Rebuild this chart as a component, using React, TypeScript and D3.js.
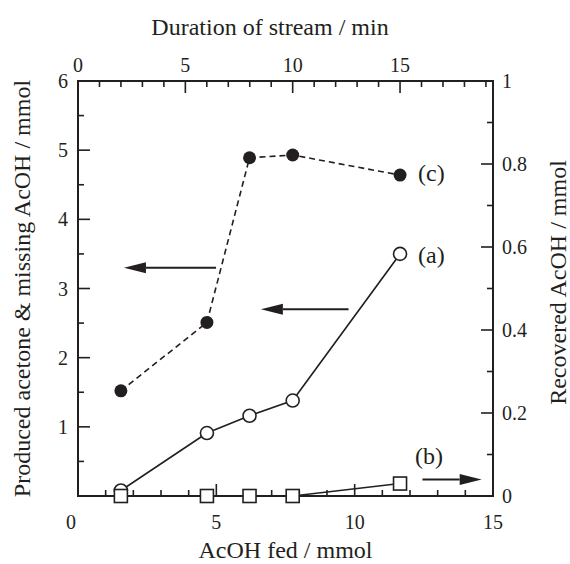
import * as d3 from "d3";

// AcOH fed (mmol) at each sampling point
const fedAcOH = [1.55, 4.66, 6.2, 7.76, 11.64];
// (a) produced acetone, left axis (mmol)
const acetoneA = [0.08, 0.91, 1.16, 1.38, 3.5];
// (b) recovered AcOH, right axis (mmol)
const recoveredB = [0, 0, 0, 0, 0.03];
// (c) missing AcOH, left axis (mmol)
const missingC = [1.52, 2.51, 4.89, 4.93, 4.64];

const xTicks = [0, 5, 10, 15];
const leftTicks = [1, 2, 3, 4, 5, 6];
const rightTicks = [0, 0.2, 0.4, 0.6, 0.8, 1];
const topTicks = [0, 5, 10, 15];
const feedRate = 0.776; // mmol AcOH per min of stream

// annotation arrows, in data units
const arrows = [
  { x1: 4.99, x2: 1.66, y: 3.3, side: "left" },
  { x1: 9.78, x2: 6.61, y: 2.7, side: "left" },
  { x1: 12.45, x2: 14.59, y: 0.04, side: "right" },
];
const seriesLabels = [
  { text: "(c)", x: 12.29, y: 4.64, side: "left" },
  { text: "(a)", x: 12.29, y: 3.45, side: "left" },
  { text: "(b)", x: 12.18, y: 0.091, side: "right" },
];

const W = 570;
const H = 564;
const L = 78;
const R = 493;
const T = 81;
const B = 496;
const ink = "#231f20";
const font = "Liberation Serif, Times New Roman, Times, serif";

export default function App() {
  const x = d3.scaleLinear().domain([0, 15]).range([L, R]);
  const xTop = d3.scaleLinear().domain([0, 15 / feedRate]).range([L, R]);
  const yL = d3.scaleLinear().domain([0, 6]).range([B, T]);
  const yR = d3.scaleLinear().domain([0, 1]).range([B, T]);

  const lineL = d3
    .line<number>()
    .x((_, i) => x(fedAcOH[i]))
    .y((d) => yL(d));
  const lineR = d3
    .line<number>()
    .x((_, i) => x(fedAcOH[i]))
    .y((d) => yR(d));

  const major = 12;
  const minor = 6;

  const xMinor = d3.range(1, 15).filter((v) => v % 5 !== 0);
  const topMinor = d3.range(1, Math.floor(15 / feedRate) + 1).filter((v) => v % 5 !== 0);
  const leftMinor = d3.range(0.5, 6, 1);
  const rightMinor = d3.range(0.1, 1, 0.2);

  return (
    <svg
      width={W}
      height={H}
      style={{ position: "absolute", left: 0, top: 0, background: "#fff", fontFamily: font }}
      fill={ink}
    >
      {/* frame */}
      <rect x={L} y={T} width={R - L} height={B - T} fill="none" stroke={ink} strokeWidth={2} />

      {/* ticks, all pointing inward */}
      <g stroke={ink} strokeWidth={1.6}>
        {xTicks.map((v) => (
          <line key={"xb" + v} x1={x(v)} x2={x(v)} y1={B} y2={B - major} />
        ))}
        {xMinor.map((v) => (
          <line key={"xbm" + v} x1={x(v)} x2={x(v)} y1={B} y2={B - minor} />
        ))}
        {topTicks.map((v) => (
          <line key={"xt" + v} x1={xTop(v)} x2={xTop(v)} y1={T} y2={T + major} />
        ))}
        {topMinor.map((v) => (
          <line key={"xtm" + v} x1={xTop(v)} x2={xTop(v)} y1={T} y2={T + minor} />
        ))}
        {leftTicks.map((v) => (
          <line key={"yl" + v} x1={L} x2={L + major} y1={yL(v)} y2={yL(v)} />
        ))}
        {leftMinor.map((v) => (
          <line key={"ylm" + v} x1={L} x2={L + minor} y1={yL(v)} y2={yL(v)} />
        ))}
        {rightTicks.map((v) => (
          <line key={"yr" + v} x1={R} x2={R - major} y1={yR(v)} y2={yR(v)} />
        ))}
        {rightMinor.map((v) => (
          <line key={"yrm" + v} x1={R} x2={R - minor} y1={yR(v)} y2={yR(v)} />
        ))}
      </g>

      {/* tick labels */}
      <g fontSize={20}>
        {xTicks.map((v) => (
          <text key={"xl" + v} x={x(v) - (v === 0 ? 7 : 0)} y={529} textAnchor="middle">
            {v}
          </text>
        ))}
        {topTicks.map((v) => (
          <text key={"tl" + v} x={xTop(v)} y={72} textAnchor="middle">
            {v}
          </text>
        ))}
        {leftTicks.map((v) => (
          <text key={"ll" + v} x={L - 10} y={yL(v) + 7} textAnchor="end">
            {v}
          </text>
        ))}
        {rightTicks.map((v) => (
          <text key={"rl" + v} x={R + 9} y={yR(v) + 7} textAnchor="start">
            {v}
          </text>
        ))}
      </g>

      {/* axis titles */}
      <g fontSize={24}>
        <text x={270} y={35} textAnchor="middle">
          Duration of stream / min
        </text>
        <text x={(L + R) / 2} y={558} textAnchor="middle">
          AcOH fed / mmol
        </text>
        <text transform={`translate(30,${(T + B) / 2}) rotate(-90)`} textAnchor="middle">
          Produced acetone &amp; missing AcOH / mmol
        </text>
        <text transform={`translate(566,${(T + B) / 2 - 6}) rotate(-90)`} textAnchor="middle">
          Recovered AcOH / mmol
        </text>
      </g>

      {/* series lines */}
      <path d={lineL(missingC) ?? ""} fill="none" stroke={ink} strokeWidth={1.6} strokeDasharray="6,4" />
      <path d={lineL(acetoneA) ?? ""} fill="none" stroke={ink} strokeWidth={1.6} />
      <path d={lineR(recoveredB) ?? ""} fill="none" stroke={ink} strokeWidth={1.6} />

      {/* markers */}
      {acetoneA.map((v, i) => (
        <circle key={"a" + i} cx={x(fedAcOH[i])} cy={yL(v)} r={6.5} fill="#fff" stroke={ink} strokeWidth={1.6} />
      ))}
      {recoveredB.map((v, i) => (
        <rect
          key={"b" + i}
          x={x(fedAcOH[i]) - 6.5}
          y={yR(v) - 6.5}
          width={13}
          height={13}
          fill="#fff"
          stroke={ink}
          strokeWidth={1.6}
        />
      ))}
      {missingC.map((v, i) => (
        <circle key={"c" + i} cx={x(fedAcOH[i])} cy={yL(v)} r={6.5} fill={ink} />
      ))}

      {/* arrows */}
      {arrows.map((a, i) => {
        const yy = a.side === "left" ? yL(a.y) : yR(a.y);
        const x1 = x(a.x1);
        const x2 = x(a.x2);
        const dir = Math.sign(x2 - x1);
        const head = 22;
        const hw = 5.5;
        return (
          <g key={"arr" + i}>
            <line x1={x1} x2={x2 - dir * head} y1={yy} y2={yy} stroke={ink} strokeWidth={2} />
            <polygon
              points={`${x2},${yy} ${x2 - dir * head},${yy - hw} ${x2 - dir * head},${yy + hw}`}
              fill={ink}
            />
          </g>
        );
      })}

      {/* series labels */}
      <g fontSize={24}>
        {seriesLabels.map((s) => (
          <text key={s.text} x={x(s.x)} y={(s.side === "left" ? yL(s.y) : yR(s.y)) + 6}>
            {s.text}
          </text>
        ))}
      </g>
    </svg>
  );
}
